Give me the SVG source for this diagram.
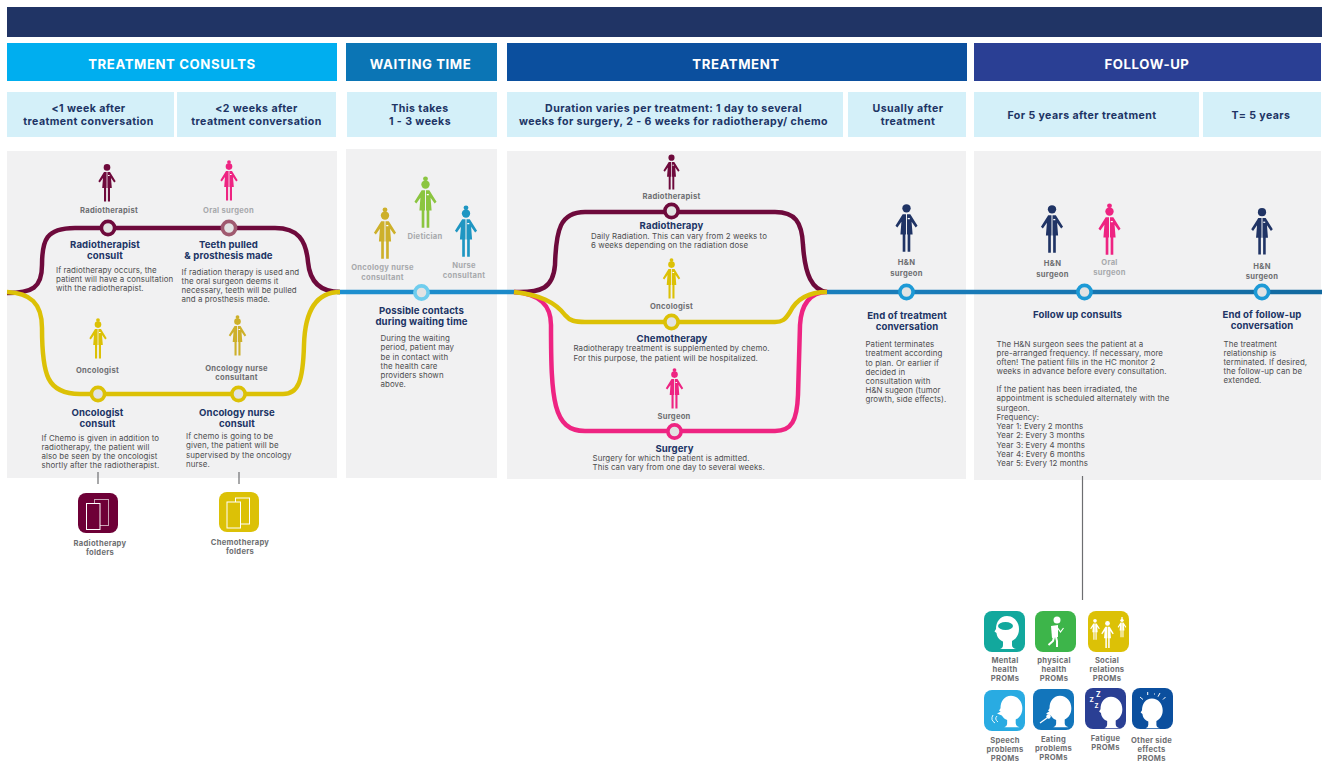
<svg xmlns="http://www.w3.org/2000/svg" width="1322" height="763" viewBox="0 0 1322 763">
<style>
text{font-family:Inter,"Open Sans","Liberation Sans",sans-serif}
.h{fill:#fff;font-weight:700;font-size:13.2px;text-anchor:middle;letter-spacing:.58px}
.s{fill:#203465;font-weight:700;font-size:10.6px;text-anchor:middle;letter-spacing:.42px}
.t{fill:#203465;font-weight:700;font-size:9.6px;text-anchor:middle;letter-spacing:.1px}
.b{fill:#4d4d4f;font-size:7.9px;letter-spacing:.08px}
.l{fill:#6d6e71;font-weight:700;font-size:7.6px;text-anchor:middle;letter-spacing:.27px}
.f{fill:#a7a9ac}
.ln{fill:none;stroke-width:4.5;stroke-linecap:butt}
.n{fill:#e2e3e3;stroke-width:3.6}
.panel{fill:#f1f1f2}
.sub{fill:#d4f0f9}
.tick{stroke:#6d6e71;stroke-width:1.2}
</style>
<defs>
<linearGradient id="mainGrad" gradientUnits="userSpaceOnUse" x1="340" y1="0" x2="1322" y2="0"><stop offset="0" stop-color="#1d8fcf"/><stop offset=".7" stop-color="#1878b5"/><stop offset="1" stop-color="#12699f"/></linearGradient>
<symbol id="body" overflow="visible"><path d="M-.4,8L-3,8L-8.7,17.2L-7.2,18.5L-4,14L-4.8,24L-3,24L-3,37.5L-.9,37.5L-.9,24L-.4,24ZM.4,8L3,8L8.7,17.2L7.2,18.5L4,14L4.8,24L3,24L3,37.5L.9,37.5L.9,24L.4,24Z"/><rect x="1" y="11" width="1.6" height="1" fill="#fff"/></symbol>
<symbol id="m" overflow="visible"><circle cx="0" cy="3.4" r="3.3"/><use href="#body"/></symbol>
<symbol id="w" overflow="visible"><circle cx="0" cy="3.6" r="3.3"/><circle cx="0" cy="-.9" r="1.9"/><use href="#body"/></symbol>
<symbol id="head" overflow="visible"><path d="M21,4C28,4 33,10 33,17C33,23 30,27 26,29L26,33Q26,36 30,37L14,37Q17,36 17,33L17,29.5C14,28 11,26 10.5,21L8.5,19.5L10,17C10,10 14,4 21,4Z" fill="#fff"/></symbol>
</defs>

<rect id="title-bar" x="7" y="7" width="1315" height="30" fill="#203465"/>

<g id="headers">
<rect x="7" y="43" width="330" height="38" fill="#00aeef"/><text class="h" x="172" y="69">TREATMENT CONSULTS</text>
<rect x="346" y="43" width="151" height="38" fill="#0b75b5"/><text class="h" x="420.5" y="69">WAITING TIME</text>
<rect x="507" y="43" width="460" height="38" fill="#0b4f9e"/><text class="h" x="736" y="69">TREATMENT</text>
<rect x="974" y="43" width="347" height="38" fill="#2a3f94"/><text class="h" x="1147" y="69">FOLLOW-UP</text>
</g>

<g id="subheaders">
<rect class="sub" x="7" y="92" width="167" height="45"/><text class="s" x="88.5" y="112">&lt;1 week after</text><text class="s" x="88.5" y="125">treatment conversation</text>
<rect class="sub" x="177" y="92" width="159" height="45"/><text class="s" x="256.5" y="112">&lt;2 weeks after</text><text class="s" x="256.5" y="125">treatment conversation</text>
<rect class="sub" x="347" y="92" width="150" height="45"/><text class="s" x="420" y="112">This takes</text><text class="s" x="420" y="125">1 - 3 weeks</text>
<rect class="sub" x="507" y="92" width="336" height="45"/><text class="s" x="673.5" y="112">Duration varies per treatment: 1 day to several</text><text class="s" x="673.5" y="125">weeks for surgery, 2 - 6 weeks for radiotherapy/ chemo</text>
<rect class="sub" x="848" y="92" width="118" height="45"/><text class="s" x="908" y="112">Usually after</text><text class="s" x="908" y="125">treatment</text>
<rect class="sub" x="974" y="92" width="225" height="45"/><text class="s" x="1082" y="119">For 5 years after treatment</text>
<rect class="sub" x="1203" y="92" width="118" height="45"/><text class="s" x="1261" y="119">T= 5 years</text>
</g>

<g id="panels">
<rect class="panel" x="7" y="151" width="330" height="327"/>
<rect class="panel" x="346" y="149" width="151" height="329"/>
<rect class="panel" x="507" y="151" width="459" height="328"/>
<rect class="panel" x="974" y="151" width="347" height="329"/>
</g>

<g id="connectors">
<path class="ln" stroke="url(#mainGrad)" d="M337,292H514M827,292H1322"/>
<path class="ln" stroke="#6e0a3c" d="M7,293C32,293 42,288 42,265C42,240 46,228 75,228H275C298,228 306,240 308,262C310,284 322,292 340,292"/>
<path class="ln" stroke="#dcc106" d="M7,292C30,293 42,303 42,328C42,375 47,394 80,394H283C298,394 303,382 304,345C305,308 318,292 340,292"/>
<path class="ln" stroke="#6e0a3c" d="M514,292C542,293 553,288 555,265C556,230 560,212 585,212H775C795,212 802,222 803,245C805,275 812,290 827,292"/>
<path class="ln" stroke="#ee2482" d="M514,292C540,294 551,305 551,325C551,400 553,431 585,431H775C792,431 797,420 798,395L800,325C801,305 810,292 827,292"/>
<path class="ln" stroke="#dcc106" d="M514,292C540,295 555,302 565,315C570,321 575,322 585,322H775C782,322 785,320 790,312C797,298 810,292 827,292"/>
<line class="tick" x1="98" y1="472" x2="98" y2="484"/>
<line class="tick" x1="239" y1="472" x2="239" y2="484"/>
<line class="tick" x1="1082.5" y1="476" x2="1082.5" y2="600"/>
</g>

<g id="node-radiotherapist-consult">
<use href="#m" transform="translate(107,164)" fill="#6e0a3c"/>
<text class="l" x="109" y="213">Radiotherapist</text>
<circle class="n" cx="108" cy="228" r="6.6" stroke="#6e0a3c"/>
<text class="t" x="105" y="248">Radiotherapist</text><text class="t" x="105" y="259">consult</text>
<text class="b" x="56" y="273">If radiotherapy occurs, the</text><text class="b" x="56" y="282">patient will have a consultation</text><text class="b" x="56" y="291">with the radiotherapist.</text>
</g>
<g id="node-teeth-pulled">
<use href="#w" transform="translate(229,163)" fill="#ee2482"/>
<text class="l f" x="228.5" y="213">Oral surgeon</text>
<circle class="n" cx="229" cy="228" r="6.6" stroke="#a05a70"/>
<text class="t" x="228.5" y="248">Teeth pulled</text><text class="t" x="228.5" y="259">&amp; prosthesis made</text>
<text class="b" x="181.5" y="274.5">If radiation therapy is used and</text><text class="b" x="181.5" y="283.5">the oral surgeon deems it</text><text class="b" x="181.5" y="293">necessary, teeth will be pulled</text><text class="b" x="181.5" y="302">and a prosthesis made.</text>
</g>
<g id="node-oncologist-consult">
<use href="#w" transform="translate(98,321)" fill="#dcc106"/>
<text class="l" x="97.5" y="373">Oncologist</text>
<circle class="n" cx="98" cy="394" r="6.6" stroke="#dcc106"/>
<text class="t" x="97.5" y="416">Oncologist</text><text class="t" x="97.5" y="427">consult</text>
<text class="b" x="41.5" y="440.5">If Chemo is given in addition to</text><text class="b" x="41.5" y="449.5">radiotherapy, the patient will</text><text class="b" x="41.5" y="458.7">also be seen by the oncologist</text><text class="b" x="41.5" y="468">shortly after the radiotherapist.</text>
</g>
<g id="node-oncology-nurse-consult">
<use href="#w" transform="translate(237.5,318)" fill="#cdb02a"/>
<text class="l" x="236.5" y="371">Oncology nurse</text><text class="l" x="236.5" y="380">consultant</text>
<circle class="n" cx="238.5" cy="394" r="6.6" stroke="#dcc106"/>
<text class="t" x="237" y="416">Oncology nurse</text><text class="t" x="237" y="427">consult</text>
<text class="b" x="186" y="439">If chemo is going to be</text><text class="b" x="186" y="448">given, the patient will be</text><text class="b" x="186" y="457.5">supervised by the oncology</text><text class="b" x="186" y="466.5">nurse.</text>
</g>

<g id="node-radiotherapy-folders">
<rect x="78" y="493" width="40" height="40" rx="8" fill="#6e0037"/>
<rect x="94.5" y="499.5" width="14" height="26" fill="none" stroke="#c9a3b5" stroke-width="1"/>
<rect x="86.5" y="503.5" width="13.5" height="26" fill="#6e0037" stroke="#fff" stroke-width="1"/>
<text class="l" x="100" y="546">Radiotherapy</text><text class="l" x="100" y="555">folders</text>
</g>
<g id="node-chemotherapy-folders">
<rect x="219" y="492" width="40" height="40" rx="8" fill="#dcc106"/>
<rect x="235.5" y="498" width="14" height="26" fill="none" stroke="#fff" stroke-width="1"/>
<rect x="227" y="502" width="13.5" height="26" fill="#dcc106" stroke="#fff" stroke-width="1"/>
<text class="l" x="240" y="545">Chemotherapy</text><text class="l" x="240" y="554">folders</text>
</g>

<g id="node-waiting">
<use href="#w" transform="translate(385,211) scale(1.27)" fill="#cdb02a"/>
<use href="#w" transform="translate(425.5,180) scale(1.27)" fill="#8bc540"/>
<use href="#w" transform="translate(466,209) scale(1.27)" fill="#1f96c2"/>
<text class="l f" x="382.5" y="270">Oncology nurse</text><text class="l f" x="382.5" y="279.5">consultant</text>
<text class="l f" x="425" y="238.5">Dietician</text>
<text class="l f" x="464" y="268">Nurse</text><text class="l f" x="464" y="277.5">consultant</text>
<circle class="n" cx="421.5" cy="292.5" r="6.6" stroke="#6fcdee"/>
<text class="t" x="421.5" y="313.5">Possible contacts</text><text class="t" x="421.5" y="325">during waiting time</text>
<text class="b" x="380.5" y="341">During the waiting</text><text class="b" x="380.5" y="350">period, patient may</text><text class="b" x="380.5" y="360">be in contact with</text><text class="b" x="380.5" y="369">the health care</text><text class="b" x="380.5" y="378">providers shown</text><text class="b" x="380.5" y="387">above.</text>
</g>

<g id="node-radiotherapy">
<use href="#m" transform="translate(671.5,154.5) scale(.93)" fill="#6e0a3c"/>
<text class="l" x="671.5" y="199">Radiotherapist</text>
<circle class="n" cx="671.5" cy="211" r="6.6" stroke="#6e0a3c"/>
<text class="t" x="671.5" y="229">Radiotherapy</text>
<text class="b" x="591" y="238.5">Daily Radiation. This can vary from 2 weeks to</text><text class="b" x="591" y="248">6 weeks depending on the radiation dose</text>
</g>
<g id="node-chemotherapy">
<use href="#w" transform="translate(671.5,261)" fill="#dcc106"/>
<text class="l" x="671.5" y="308.5">Oncologist</text>
<circle class="n" cx="671.5" cy="322" r="6.6" stroke="#dcc106"/>
<text class="t" x="672" y="341.5">Chemotherapy</text>
<text class="b" x="573.5" y="351">Radiotherapy treatment is supplemented by chemo.</text><text class="b" x="573.5" y="361">For this purpose, the patient will be hospitalized.</text>
</g>
<g id="node-surgery">
<use href="#w" transform="translate(674.5,371)" fill="#ee2482"/>
<text class="l" x="674" y="419">Surgeon</text>
<circle class="n" cx="674.5" cy="431.5" r="6.6" stroke="#ee2482"/>
<text class="t" x="674.5" y="451.5">Surgery</text>
<text class="b" x="592.5" y="460.5">Surgery for which the patient is admitted.</text><text class="b" x="592.5" y="470">This can vary from one day to several weeks.</text>
</g>

<g id="node-end-of-treatment">
<use href="#m" transform="translate(906.5,204) scale(1.27)" fill="#203465"/>
<text class="l" x="906.5" y="265">H&amp;N</text><text class="l" x="906.5" y="275.5">surgeon</text>
<circle class="n" cx="906.5" cy="292" r="6.6" stroke="#1d9ad6"/>
<text class="t" x="907" y="319">End of treatment</text><text class="t" x="907" y="330">conversation</text>
<text class="b" x="865.5" y="347">Patient terminates</text><text class="b" x="865.5" y="356">treatment according</text><text class="b" x="865.5" y="365.5">to plan. Or earlier if</text><text class="b" x="865.5" y="374.5">decided in</text><text class="b" x="865.5" y="383.5">consultation with</text><text class="b" x="865.5" y="393">H&amp;N sugeon (tumor</text><text class="b" x="865.5" y="402">growth, side effects).</text>
</g>

<g id="node-follow-up">
<use href="#m" transform="translate(1052,205) scale(1.27)" fill="#203465"/>
<use href="#w" transform="translate(1109.5,207) scale(1.27)" fill="#ee2482"/>
<text class="l" x="1052.5" y="266">H&amp;N</text><text class="l" x="1052.5" y="276.5">surgeon</text>
<text class="l f" x="1109.5" y="265">Oral</text><text class="l f" x="1109.5" y="275">surgeon</text>
<circle class="n" cx="1084.5" cy="292" r="6.6" stroke="#1d9ad6"/>
<text class="t" x="1077.5" y="318">Follow up consults</text>
<text class="b" x="996.5" y="347">The H&amp;N surgeon sees the patient at a</text><text class="b" x="996.5" y="356">pre-arranged frequency. If necessary, more</text><text class="b" x="996.5" y="365">often! The patient fills in the HC monitor 2</text><text class="b" x="996.5" y="374">weeks in advance before every consultation.</text>
<text class="b" x="996.5" y="392">If the patient has been irradiated, the</text><text class="b" x="996.5" y="401">appointment is scheduled alternately with the</text><text class="b" x="996.5" y="410.5">surgeon.</text><text class="b" x="996.5" y="420">Frequency:</text><text class="b" x="996.5" y="429">Year 1: Every 2 months</text><text class="b" x="996.5" y="438">Year 2: Every 3 months</text><text class="b" x="996.5" y="447.5">Year 3: Every 4 months</text><text class="b" x="996.5" y="456.5">Year 4: Every 6 months</text><text class="b" x="996.5" y="465.5">Year 5: Every 12 months</text>
</g>

<g id="node-end-of-follow-up">
<use href="#m" transform="translate(1262,208) scale(1.24)" fill="#203465"/>
<text class="l" x="1262" y="268.5">H&amp;N</text><text class="l" x="1262" y="279">surgeon</text>
<circle class="n" cx="1262" cy="292" r="6.6" stroke="#1d9ad6"/>
<text class="t" x="1262" y="318">End of follow-up</text><text class="t" x="1262" y="329">conversation</text>
<text class="b" x="1223.5" y="347">The treatment</text><text class="b" x="1223.5" y="356">relationship is</text><text class="b" x="1223.5" y="365">terminated. If desired,</text><text class="b" x="1223.5" y="374">the follow-up can be</text><text class="b" x="1223.5" y="383">extended.</text>
</g>

<g id="prom-mental">
<rect x="984" y="611" width="41" height="41" rx="8" fill="#12a89d"/>
<use href="#head" transform="translate(986,612)"/><ellipse cx="1005.5" cy="626" rx="7.5" ry="4" fill="#12a89d"/>
<text class="l" x="1005" y="663">Mental</text><text class="l" x="1005" y="672">health</text><text class="l" x="1005" y="681">PROMs</text>
</g>
<g id="prom-physical">
<rect x="1035" y="611" width="41" height="41" rx="8" fill="#3db54a"/>
<circle cx="1057" cy="620" r="3.5" fill="#fff"/>
<path d="M1057,627L1060.500,632L1063.500,628" fill="none" stroke="#fff" stroke-width="1.2"/>
<path d="M1051,626L1058,625L1058,637L1052,638Z" fill="#fff"/>
<path d="M1054,637L1053,641L1048.500,645M1056,637L1057,641L1057,647" fill="none" stroke="#fff" stroke-width="2"/>
<text class="l" x="1054" y="663">physical</text><text class="l" x="1054" y="672">health</text><text class="l" x="1054" y="681">PROMs</text>
</g>
<g id="prom-social">
<rect x="1088" y="611" width="41" height="41" rx="8" fill="#dcc106"/>
<use href="#m" transform="translate(1095,619) scale(.55)" fill="#fff"/>
<use href="#m" transform="translate(1107.5,621) scale(.72)" fill="#fff"/>
<use href="#w" transform="translate(1122,618.500) scale(.5)" fill="#fff"/>
<text class="l" x="1107" y="663">Social</text><text class="l" x="1107" y="672">relations</text><text class="l" x="1107" y="681">PROMs</text>
</g>
<g id="prom-speech">
<rect x="984" y="690" width="41" height="41" rx="8" fill="#29abe2"/>
<use href="#head" transform="translate(991,692) scale(.95)"/>
<path d="M1002,711L997,713.500L1003,716Z" fill="#fff"/>
<path d="M997,716Q994,719 998,722M993,715Q990,720 995,723" fill="none" stroke="#fff" stroke-width=".9"/>
<text class="l" x="1005" y="742.5">Speech</text><text class="l" x="1005" y="752">problems</text><text class="l" x="1005" y="761">PROMs</text>
</g>
<g id="prom-eating">
<rect x="1033" y="689" width="41" height="41" rx="8" fill="#1275bb"/>
<use href="#head" transform="translate(1040,692) scale(.95)"/>
<path d="M1050,711L1046,713.500L1052,716Z" fill="#fff"/>
<path d="M1040,723L1047,718" stroke="#fff" stroke-width="1.2"/><circle cx="1048.5" cy="716.5" r="2.2" fill="#fff"/>
<text class="l" x="1053.5" y="741.5">Eating</text><text class="l" x="1053.5" y="751">problems</text><text class="l" x="1053.5" y="760">PROMs</text>
</g>
<g id="prom-fatigue">
<rect x="1085" y="688" width="41" height="41" rx="8" fill="#2a3f94"/>
<use href="#head" transform="translate(1091,693) scale(.95)"/>
<text x="1089.500" y="702" font-size="6.5" font-weight="700" fill="#fff">Z</text><text x="1096" y="697" font-size="7" font-weight="700" fill="#fff">Z</text><text x="1094.500" y="708" font-size="6" font-weight="700" fill="#fff">Z</text>
<text class="l" x="1105.5" y="741">Fatigue</text><text class="l" x="1105.5" y="750">PROMs</text>
</g>
<g id="prom-other">
<rect x="1132" y="688" width="41" height="41" rx="8" fill="#0b4f9e"/>
<use href="#head" transform="translate(1133,695) scale(.9)"/>
<path d="M1140,697L1143,699.500M1147.700,692L1147.700,695M1154,694L1155,694M1160,693L1158,696.700M1165.500,697L1163,699.500" stroke="#fff" stroke-width="1"/>
<text class="l" x="1151.5" y="742.5">Other side</text><text class="l" x="1151.5" y="752">effects</text><text class="l" x="1151.5" y="761">PROMs</text>
</g>
</svg>
